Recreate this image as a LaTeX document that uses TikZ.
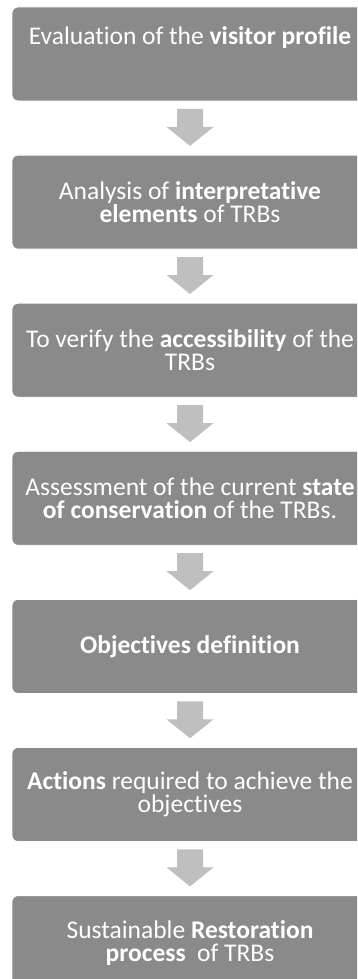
\documentclass[tikz,border=0pt]{standalone}
\usepackage{fontspec}
\setmainfont{Carlito}[Ligatures=NoCommon]
\usetikzlibrary{positioning,calc}
\definecolor{boxgray}{HTML}{8A8A8A}
\definecolor{arrgray}{HTML}{BFBFBF}

% block arrow under a box
\newcommand{\flowarrow}[1]{%
  \fill[arrgray] ($(#1.south)+(-13,-7.5)$) -- ++(26,0) -- ++(0,-18)
    -- ++(10.5,0) -- ++(-23.5,-19) -- ++(-23.5,19) -- ++(10.5,0) -- cycle;}

\begin{document}
\begin{tikzpicture}[
  x=1pt, y=1pt,
  stage/.style={draw=white, line width=0.8pt, fill=boxgray, rounded corners=6pt,
                minimum width=356pt, minimum height=94pt, align=center,
                text=white, font=\fontsize{25.5}{23}\selectfont, inner sep=2pt},
]
\useasboundingbox (0,0) rectangle (357,-979);
\clip (0,0) rectangle (357,-979);

% ---- Stages ----
\node[stage] (visitor) at (190,-54)
  {Evaluation of the \textbf{visitor profile}\\[14pt]\mbox{}};
\node[stage, below=53.3pt of visitor] (interp)
  {Analysis of \textbf{interpretative}\\\textbf{elements} of TRBs};
\node[stage, below=53.3pt of interp] (access)
  {To verify the \textbf{accessibility} of the\\TRBs};
\node[stage, below=53.3pt of access] (conserv)
  {Assessment of the current \textbf{state}\\\textbf{of conservation} of the TRBs.};
\node[stage, below=53.3pt of conserv] (objdef)
  {\textbf{Objectives definition}};
\node[stage, below=53.3pt of objdef] (actions)
  {\textbf{Actions} required to achieve the\\objectives};
\node[stage, below=53.3pt of actions] (restor)
  {Sustainable \textbf{Restoration}\\\textbf{process}\ \ of TRBs};

% ---- Arrows ----
\flowarrow{visitor}
\flowarrow{interp}
\flowarrow{access}
\flowarrow{conserv}
\flowarrow{objdef}
\flowarrow{actions}

\end{tikzpicture}
\end{document}
